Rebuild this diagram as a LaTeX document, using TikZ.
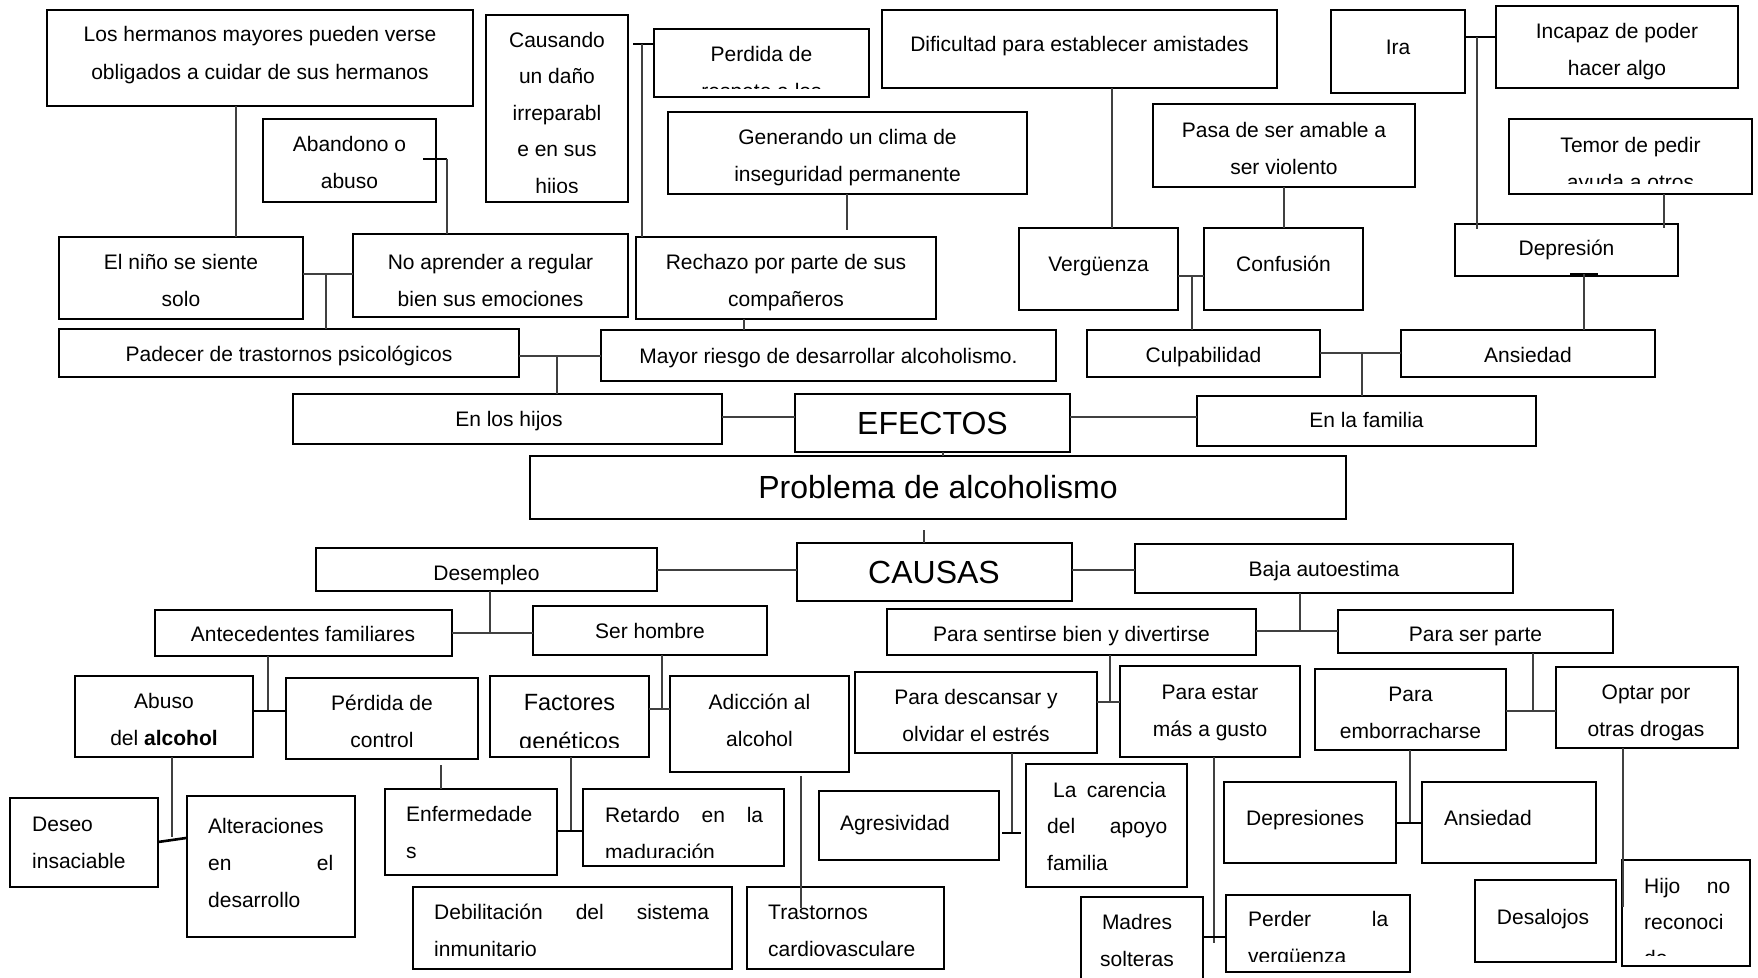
\documentclass[tikz,border=0pt]{standalone}
\usepackage{fontspec}
\setmainfont{Liberation Sans}
\tikzset{
  box/.style={draw=black, line width=2.4pt, inner sep=0pt, outer sep=0pt},
  conn/.style={draw=black!75, line width=1.3pt},
  bar/.style={draw=black, line width=2.6pt},
  txt/.style={inner sep=0pt, font=\fontsize{21}{37}\selectfont, align=center, anchor=base},
  txtl/.style={txt, align=left, anchor=base west},
  big/.style={inner sep=0pt, font=\fontsize{32}{38}\selectfont, anchor=base},
}
\newcommand\mybox[5]{\node[box, minimum width={#4-#2}, minimum height={#5-#3}] (#1) at ({(#2+#4)/2},{(#3+#5)/2}) {};}
\begin{document}
\begin{tikzpicture}[x=1pt,y=-1pt]
\useasboundingbox (0,0) rectangle (1758,977);
\fill[white] (0,0) rectangle (1758,977);
\clip (0,0) rectangle (1758,977);
% ---------------- boxes
\mybox{herm}{47}{10}{473}{106}
\mybox{aband}{263}{119}{436}{202}
\mybox{nino}{59}{237}{303}{319}
\mybox{noapr}{353}{234}{628}{317}
\mybox{causando}{486}{15}{628}{202}
\mybox{perdida}{654}{29}{869}{97}
\mybox{gener}{668}{112}{1027}{194}
\mybox{rechazo}{636}{237}{936}{319}
\mybox{padecer}{59}{329}{519}{377}
\mybox{mayor}{601}{330}{1056}{381}
\mybox{dific}{882}{10}{1277}{88}
\mybox{pasa}{1153}{104}{1415}{187}
\mybox{verg}{1019}{228}{1178}{310}
\mybox{conf}{1204}{228}{1363}{310}
\mybox{ira}{1331}{10}{1465}{93}
\mybox{incapaz}{1496}{6}{1738}{88}
\mybox{temor}{1509}{119}{1752}{194}
\mybox{depres}{1455}{224}{1678}{276}
\mybox{culp}{1087}{330}{1320}{377}
\mybox{ansied}{1401}{330}{1655}{377}
\mybox{hijos}{293}{394}{722}{444}
\mybox{efectos}{795}{394}{1070}{452}
\mybox{familia}{1197}{396}{1536}{446}
\mybox{problema}{530}{456}{1346}{519}
\mybox{causas}{797}{543}{1072}{601}
\mybox{desemp}{316}{548}{657}{591}
\mybox{baja}{1135}{544}{1513}{593}
\mybox{antec}{155}{610}{452}{656}
\mybox{serh}{533}{606}{767}{655}
\mybox{sentirse}{887}{609}{1256}{655}
\mybox{serparte}{1338}{610}{1613}{653}
\mybox{abuso}{75}{676}{253}{757}
\mybox{perdctl}{286}{678}{478}{759}
\mybox{factores}{490}{676}{649}{757}
\mybox{adiccion}{670}{676}{849}{772}
\mybox{retardo}{583}{789}{784}{866}
\mybox{enferm}{385}{789}{557}{875}
\mybox{deseo}{10}{798}{158}{887}
\mybox{alter}{187}{796}{355}{937}
\mybox{debil}{413}{887}{732}{969}
\mybox{trast}{747}{887}{944}{969}
\mybox{agres}{819}{791}{999}{860}
\mybox{descans}{855}{672}{1097}{753}
\mybox{estar}{1120}{666}{1300}{757}
\mybox{carencia}{1026}{764}{1187}{887}
\mybox{madres}{1081}{897}{1203}{995}
\mybox{perder}{1226}{895}{1410}{972}
\mybox{depresiones}{1224}{782}{1396}{863}
\mybox{emborr}{1315}{669}{1506}{750}
\mybox{optar}{1556}{667}{1738}{748}
\mybox{ansied2}{1422}{782}{1596}{863}
\mybox{desal}{1475}{880}{1616}{962}
\mybox{hijo}{1622}{860}{1750}{966}
% ---------------- texts (anchor = baseline of the last line)
\node[txt, font=\fontsize{21}{38}\selectfont] (t-herm) at (260,79) {Los hermanos mayores pueden verse\\obligados a cuidar de sus hermanos};
\node[txt] (t-aband) at (349.5,188) {Abandono o\\abuso};
\node[txt] (t-nino) at (181,306) {El niño se siente\\solo};
\node[txt] (t-noapr) at (490.5,306) {No aprender a regular\\bien sus emociones};
\begin{scope}
\clip (486,15) rectangle (628,192);
\node[txt, font=\fontsize{21}{36.5}\selectfont] (t-causando) at (557,193) {Causando\\un daño\\irreparabl\\e en sus\\hijos};
\end{scope}
\begin{scope}
\clip (654,29) rectangle (869,88);
\node[txt] (t-perdida) at (761.5,98) {Perdida de\\respeto a los};
\end{scope}
\node[txt] (t-gener) at (847.5,181) {Generando un clima de\\inseguridad permanente};
\node[txt] (t-rechazo) at (786,306) {Rechazo por parte de sus\\compañeros};
\node[txt] (t-padecer) at (289,361) {Padecer de trastornos psicológicos};
\node[txt] (t-mayor) at (828.5,363) {Mayor riesgo de desarrollar alcoholismo.};
\node[txt] (t-dific) at (1079.5,51) {Dificultad para establecer amistades};
\node[txt] (t-pasa) at (1284,174) {Pasa de ser amable a\\ser violento};
\node[txt] (t-verg) at (1098.5,271) {Vergüenza};
\node[txt] (t-conf) at (1283.5,271) {Confusión};
\node[txt] (t-ira) at (1398,54) {Ira};
\node[txt] (t-incapaz) at (1617,75) {Incapaz de poder\\hacer algo};
\begin{scope}
\clip (1509,119) rectangle (1752,183.5);
\node[txt] (t-temor) at (1630.5,189) {Temor de pedir\\ayuda a otros};
\end{scope}
\node[txt] (t-depres) at (1566.5,255) {Depresión};
\node[txt] (t-culp) at (1203.5,362) {Culpabilidad};
\node[txt] (t-ansied) at (1528,362) {Ansiedad};
\node[txt] (t-hijos) at (509,426) {En los hijos};
\node[big] (t-efectos) at (932.5,434.5) {EFECTOS};
\node[txt] (t-familia) at (1366.5,427) {En la familia};
\node[big] (t-problema) at (938,498.5) {Problema de alcoholismo};
\node[big] (t-causas) at (934,583.5) {CAUSAS};
\node[txt] (t-desemp) at (486.5,580) {Desempleo};
\node[txt] (t-baja) at (1324,576) {Baja autoestima};
\node[txt] (t-antec) at (303,641) {Antecedentes familiares};
\node[txt] (t-serh) at (650,638) {Ser hombre};
\node[txt] (t-sentirse) at (1071.5,641) {Para sentirse bien y divertirse};
\node[txt] (t-serparte) at (1475.5,641) {Para ser parte};
\node[txt] (t-abuso) at (164,745) {Abuso\\del \textbf{alcohol}};
\node[txt] (t-perdctl) at (382,747) {Pérdida de\\control};
\begin{scope}
\clip (490,676) rectangle (649,747);
\node[txt, font=\fontsize{23.5}{39}\selectfont] (t-factores) at (569.5,749.5) {Factores\\genéticos};
\end{scope}
\node[txt] (t-adiccion) at (759.5,746) {Adicción al\\alcohol};
\begin{scope}
\clip (583,789) rectangle (784,857);
\node[txtl] (t-retardo) at (605,859) {\makebox[158pt][s]{Retardo en la}\\maduración};
\end{scope}
\node[txtl] (t-enferm) at (406,858) {Enfermedade\\s};
\node[txtl] (t-deseo) at (32,868) {Deseo\\insaciable};
\node[txtl] (t-alter) at (208,907) {Alteraciones\\\makebox[125pt][s]{en el}\\desarrollo};
\node[txtl] (t-debil) at (434,956) {\makebox[275pt][s]{Debilitación del sistema}\\inmunitario};
\node[txtl] (t-trast) at (768,956) {Trastornos\\cardiovasculare};
\node[txtl] (t-agres) at (840,830) {Agresividad};
\node[txt] (t-descans) at (976,741) {Para descansar y\\olvidar el estrés};
\node[txt] (t-estar) at (1210,736) {Para estar\\más a gusto};
\node[txtl, font=\fontsize{21}{36.5}\selectfont] (t-carencia) at (1047,870) {\hspace*{6pt}\makebox[113pt][s]{La carencia}\\\makebox[120pt][s]{del apoyo}\\familia};
\node[txt] (t-madres) at (1137,966) {Madres\\solteras};
\begin{scope}
\clip (1226,895) rectangle (1410,961);
\node[txtl] (t-perder) at (1248,963) {\makebox[140pt][s]{Perder la}\\vergüenza};
\end{scope}
\node[txtl] (t-depresiones) at (1246,825) {Depresiones};
\node[txt] (t-emborr) at (1410.5,738) {Para\\emborracharse};
\node[txt] (t-optar) at (1646,736) {Optar por\\otras drogas};
\node[txtl] (t-ansied2) at (1444,825) {Ansiedad};
\node[txt] (t-desal) at (1543,924) {Desalojos};
\begin{scope}
\clip (1622,860) rectangle (1750,955);
\node[txtl, font=\fontsize{21}{36}\selectfont] (t-hijo) at (1644,965) {\makebox[86pt][s]{Hijo no}\\reconoci\\do};
\end{scope}
% ---------------- connectors
\coordinate (k1) at (236,0);
\draw[conn] (herm.south -| k1) -- (nino.north -| k1);
\coordinate (k2) at (447,159); \coordinate (k2a) at (423,159);
\draw[bar] (k2a) -- (k2); \draw[conn] (k2) -- (noapr.north -| k2);
\coordinate (k3) at (326,274);
\draw[conn] (nino.east |- k3) -- (noapr.west |- k3);
\draw[conn] (k3) -- (padecer.north -| k3);
\coordinate (k4) at (642,44); \coordinate (k4a) at (633,44);
\draw[bar] (k4a) -- (perdida.west |- k4);
\draw[conn] (k4) -- (rechazo.north -| k4);
\coordinate (k5) at (847,230);
\draw[conn] (gener.south -| k5) -- (k5);
\coordinate (k6) at (744,0);
\draw[conn] (rechazo.south -| k6) -- (mayor.north -| k6);
\coordinate (k7) at (557,356);
\draw[conn] (padecer.east |- k7) -- (mayor.west |- k7);
\draw[conn] (k7) -- (hijos.north -| k7);
\coordinate (k8) at (0,417);
\draw[conn] (hijos.east |- k8) -- (efectos.west |- k8);
\draw[conn] (efectos.east |- k8) -- (familia.west |- k8);
\coordinate (k9) at (943,0);
\draw[conn] (efectos.south -| k9) -- (problema.north -| k9);
\coordinate (k10) at (1112,0);
\draw[conn] (dific.south -| k10) -- (verg.north -| k10);
\coordinate (k11) at (1284,0);
\draw[conn] (pasa.south -| k11) -- (conf.north -| k11);
\coordinate (k12) at (1192,276);
\draw[conn] (verg.east |- k12) -- (conf.west |- k12);
\draw[conn] (k12) -- (culp.north -| k12);
\coordinate (k13) at (1477,37); \coordinate (k13b) at (1477,229);
\draw[bar] (ira.east |- k13) -- (incapaz.west |- k13);
\draw[conn] (k13) -- (k13b);
\coordinate (k14) at (1664,228);
\draw[conn] (temor.south -| k14) -- (k14);
\coordinate (k15) at (1584,274); \coordinate (k15a) at (1570,274); \coordinate (k15b) at (1598,274);
\draw[bar] (k15a) -- (k15b);
\draw[conn] (k15) -- (ansied.north -| k15);
\coordinate (k16) at (1362,353);
\draw[conn] (culp.east |- k16) -- (ansied.west |- k16);
\draw[conn] (k16) -- (familia.north -| k16);
\coordinate (k18) at (924,530);
\draw[conn] (k18) -- (causas.north -| k18);
\coordinate (k19) at (0,570);
\draw[conn] (desemp.east |- k19) -- (causas.west |- k19);
\draw[conn] (causas.east |- k19) -- (baja.west |- k19);
\coordinate (k21) at (490,633);
\draw[conn] (desemp.south -| k21) -- (k21);
\draw[conn] (antec.east |- k21) -- (serh.west |- k21);
\coordinate (k22) at (1300,631);
\draw[conn] (baja.south -| k22) -- (k22);
\draw[conn] (sentirse.east |- k22) -- (serparte.west |- k22);
\coordinate (k23) at (268,711);
\draw[conn] (antec.south -| k23) -- (k23);
\draw[bar] (abuso.east |- k23) -- (perdctl.west |- k23);
\coordinate (k24) at (662,709);
\draw[conn] (serh.south -| k24) -- (k24);
\draw[conn] (factores.east |- k24) -- (adiccion.west |- k24);
\coordinate (k25) at (1110,702);
\draw[conn] (sentirse.south -| k25) -- (k25);
\draw[conn] (descans.east |- k25) -- (estar.west |- k25);
\coordinate (k26) at (1533,711);
\draw[conn] (serparte.south -| k26) -- (k26);
\draw[conn] (emborr.east |- k26) -- (optar.west |- k26);
\coordinate (k27) at (172,837); \coordinate (k27a) at (158,842); \coordinate (k27b) at (186,838);
\draw[conn] (abuso.south -| k27) -- (k27);
\draw[bar] (k27a) -- (k27b);
\coordinate (k28) at (441,765);
\draw[conn] (k28) -- (enferm.north -| k28);
\coordinate (k29) at (571,831);
\draw[conn] (factores.south -| k29) -- (k29);
\draw[bar] (enferm.east |- k29) -- (retardo.west |- k29);
\coordinate (k30) at (801,776); \coordinate (k30b) at (801,908);
\draw[conn] (k30) -- (k30b);
\coordinate (k31) at (1012,833); \coordinate (k31a) at (1002,833); \coordinate (k31b) at (1021,833);
\draw[conn] (descans.south -| k31) -- (k31);
\draw[bar] (k31a) -- (k31b);
\coordinate (k32) at (1214,943); \coordinate (k32y) at (1214,937);
\draw[conn] (estar.south -| k32) -- (k32);
\draw[bar] (madres.east |- k32y) -- (perder.west |- k32y);
\coordinate (k33) at (1410,823);
\draw[conn] (emborr.south -| k33) -- (k33);
\draw[bar] (depresiones.east |- k33) -- (ansied2.west |- k33);
\coordinate (k34) at (1623,907);
\draw[conn] (optar.south -| k34) -- (k34);
\end{tikzpicture}
\end{document}
